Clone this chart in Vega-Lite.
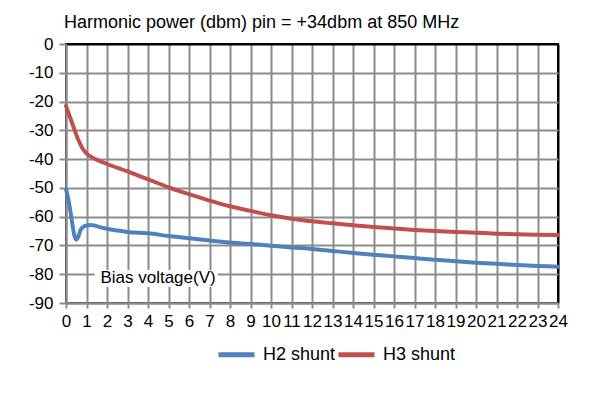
{
  "$schema": "https://vega.github.io/schema/vega-lite/v6.json",
  "width": 492,
  "height": 259,
  "autosize": {"type": "none"},
  "padding": {"left": 66, "top": 44, "right": 46, "bottom": 106},
  "background": "white",
  "title": {
    "text": "Harmonic power (dbm) pin = +34dbm at 850 MHz",
    "anchor": "start",
    "frame": "group",
    "font": "Liberation Sans",
    "fontSize": 18,
    "fontWeight": "normal",
    "color": "black",
    "baseline": "alphabetic",
    "offset": 16,
    "dx": -2,
    "dy": 27
  },
  "config": {
    "view": {"stroke": "black", "strokeWidth": 2},
    "font": "Liberation Sans"
  },
  "encoding": {
    "x": {"field": "v", "type": "quantitative", "scale": {"domain": [0, 24], "nice": false, "zero": false},
      "axis": {"values": [0,1,2,3,4,5,6,7,8,9,10,11,12,13,14,15,16,17,18,19,20,21,22,23,24], "title": null,
        "labelFont": "Liberation Sans", "labelFontSize": 17, "labelColor": "black", "labelPadding": 5,
        "labelOverlap": false, "labelFlush": false, "labelBound": false,
        "domainColor": "#8c8c8c", "domainWidth": 2, "tickColor": "#8c8c8c", "tickWidth": 2, "tickSize": 5,
        "grid": true, "gridColor": {"condition": {"test": "datum.value === 24", "value": "black"}, "value": "#8c8c8c"}, "gridWidth": 2, "gridOpacity": 1}},
    "y": {"field": "dbm", "type": "quantitative", "scale": {"domain": [-90, 0], "nice": false, "zero": false},
      "axis": {"values": [0,-10,-20,-30,-40,-50,-60,-70,-80,-90], "title": null,
        "labelExpr": "'' + datum.value",
        "labelFont": "Liberation Sans", "labelFontSize": 17, "labelColor": "black", "labelPadding": 6,
        "labelOverlap": false, "labelFlush": false, "labelBound": false,
        "domainColor": "#8c8c8c", "domainWidth": 2, "tickColor": "#8c8c8c", "tickWidth": 2, "tickSize": 7,
        "grid": true, "gridColor": {"condition": {"test": "datum.value === 0", "value": "black"}, "value": "#8c8c8c"}, "gridWidth": 2, "gridOpacity": 1}}
  },
  "layer": [
    {
      "data": {"values": [{"v": 1.4, "v2": 7.4, "dbm": -78.5, "dbm2": -84.4}]},
      "mark": {"type": "rect", "fill": "white"},
      "encoding": {
        "x2": {"field": "v2"},
        "y2": {"field": "dbm2"}
      }
    },
    {
      "data": {"values": [{"v": 4.49, "dbm": -81.4, "label": "Bias voltage(V)"}]},
      "mark": {"type": "text", "font": "Liberation Sans", "fontSize": 17, "color": "black", "align": "center", "baseline": "middle"},
      "encoding": {
        "text": {"field": "label"}
      }
    },
    {
      "data": {"values": [
        {"series": "H2 shunt", "v": 0, "dbm": -50.5},
        {"series": "H2 shunt", "v": 0.1, "dbm": -53.5},
        {"series": "H2 shunt", "v": 0.2, "dbm": -57.5},
        {"series": "H2 shunt", "v": 0.3, "dbm": -62},
        {"series": "H2 shunt", "v": 0.4, "dbm": -66.3},
        {"series": "H2 shunt", "v": 0.5, "dbm": -68},
        {"series": "H2 shunt", "v": 0.6, "dbm": -67},
        {"series": "H2 shunt", "v": 0.7, "dbm": -64.8},
        {"series": "H2 shunt", "v": 0.85, "dbm": -63.5},
        {"series": "H2 shunt", "v": 1.0, "dbm": -63.1},
        {"series": "H2 shunt", "v": 1.2, "dbm": -62.9},
        {"series": "H2 shunt", "v": 1.4, "dbm": -63.1},
        {"series": "H2 shunt", "v": 1.7, "dbm": -63.7},
        {"series": "H2 shunt", "v": 2, "dbm": -64.2},
        {"series": "H2 shunt", "v": 2.5, "dbm": -64.8},
        {"series": "H2 shunt", "v": 3, "dbm": -65.3},
        {"series": "H2 shunt", "v": 4, "dbm": -65.8},
        {"series": "H2 shunt", "v": 5, "dbm": -66.7},
        {"series": "H2 shunt", "v": 6, "dbm": -67.5},
        {"series": "H2 shunt", "v": 7, "dbm": -68.3},
        {"series": "H2 shunt", "v": 8, "dbm": -69},
        {"series": "H2 shunt", "v": 9, "dbm": -69.5},
        {"series": "H2 shunt", "v": 10, "dbm": -70.1},
        {"series": "H2 shunt", "v": 11, "dbm": -70.7},
        {"series": "H2 shunt", "v": 12, "dbm": -71.2},
        {"series": "H2 shunt", "v": 13, "dbm": -71.9},
        {"series": "H2 shunt", "v": 14, "dbm": -72.6},
        {"series": "H2 shunt", "v": 15, "dbm": -73.2},
        {"series": "H2 shunt", "v": 16, "dbm": -73.8},
        {"series": "H2 shunt", "v": 17, "dbm": -74.4},
        {"series": "H2 shunt", "v": 18, "dbm": -75},
        {"series": "H2 shunt", "v": 19, "dbm": -75.5},
        {"series": "H2 shunt", "v": 20, "dbm": -76},
        {"series": "H2 shunt", "v": 21, "dbm": -76.4},
        {"series": "H2 shunt", "v": 22, "dbm": -76.8},
        {"series": "H2 shunt", "v": 23, "dbm": -77.1},
        {"series": "H2 shunt", "v": 24, "dbm": -77.4},
        {"series": "H3 shunt", "v": 0, "dbm": -21.5},
        {"series": "H3 shunt", "v": 0.2, "dbm": -25.5},
        {"series": "H3 shunt", "v": 0.4, "dbm": -29.5},
        {"series": "H3 shunt", "v": 0.6, "dbm": -33.3},
        {"series": "H3 shunt", "v": 0.8, "dbm": -36.2},
        {"series": "H3 shunt", "v": 1, "dbm": -38},
        {"series": "H3 shunt", "v": 1.3, "dbm": -39.5},
        {"series": "H3 shunt", "v": 1.6, "dbm": -40.5},
        {"series": "H3 shunt", "v": 2, "dbm": -41.7},
        {"series": "H3 shunt", "v": 3, "dbm": -44.3},
        {"series": "H3 shunt", "v": 4, "dbm": -47},
        {"series": "H3 shunt", "v": 5, "dbm": -49.8},
        {"series": "H3 shunt", "v": 6, "dbm": -52.2},
        {"series": "H3 shunt", "v": 7, "dbm": -54.4},
        {"series": "H3 shunt", "v": 8, "dbm": -56.4},
        {"series": "H3 shunt", "v": 9, "dbm": -58},
        {"series": "H3 shunt", "v": 10, "dbm": -59.5},
        {"series": "H3 shunt", "v": 11, "dbm": -60.7},
        {"series": "H3 shunt", "v": 12, "dbm": -61.6},
        {"series": "H3 shunt", "v": 13, "dbm": -62.3},
        {"series": "H3 shunt", "v": 14, "dbm": -63},
        {"series": "H3 shunt", "v": 15, "dbm": -63.6},
        {"series": "H3 shunt", "v": 16, "dbm": -64.1},
        {"series": "H3 shunt", "v": 17, "dbm": -64.6},
        {"series": "H3 shunt", "v": 18, "dbm": -65},
        {"series": "H3 shunt", "v": 19, "dbm": -65.3},
        {"series": "H3 shunt", "v": 20, "dbm": -65.6},
        {"series": "H3 shunt", "v": 21, "dbm": -65.9},
        {"series": "H3 shunt", "v": 22, "dbm": -66.1},
        {"series": "H3 shunt", "v": 23, "dbm": -66.3},
        {"series": "H3 shunt", "v": 24, "dbm": -66.4}
      ]},
      "mark": {"type": "line", "strokeWidth": 4, "interpolate": "monotone", "strokeCap": "round"},
      "encoding": {
        "color": {"field": "series", "type": "nominal",
          "scale": {"domain": ["H2 shunt", "H3 shunt"], "range": ["#4F81BD", "#C0504D"]},
          "legend": {"title": null, "orient": "none", "direction": "horizontal", "legendX": 150, "legendY": 290,
            "symbolType": "stroke", "symbolSize": 1296, "symbolStrokeWidth": 5,
            "labelFont": "Liberation Sans", "labelFontSize": 18, "labelColor": "black", "labelOffset": 6,
            "columnPadding": -12, "labelLimit": 200}}
      }
    }
  ]
}
